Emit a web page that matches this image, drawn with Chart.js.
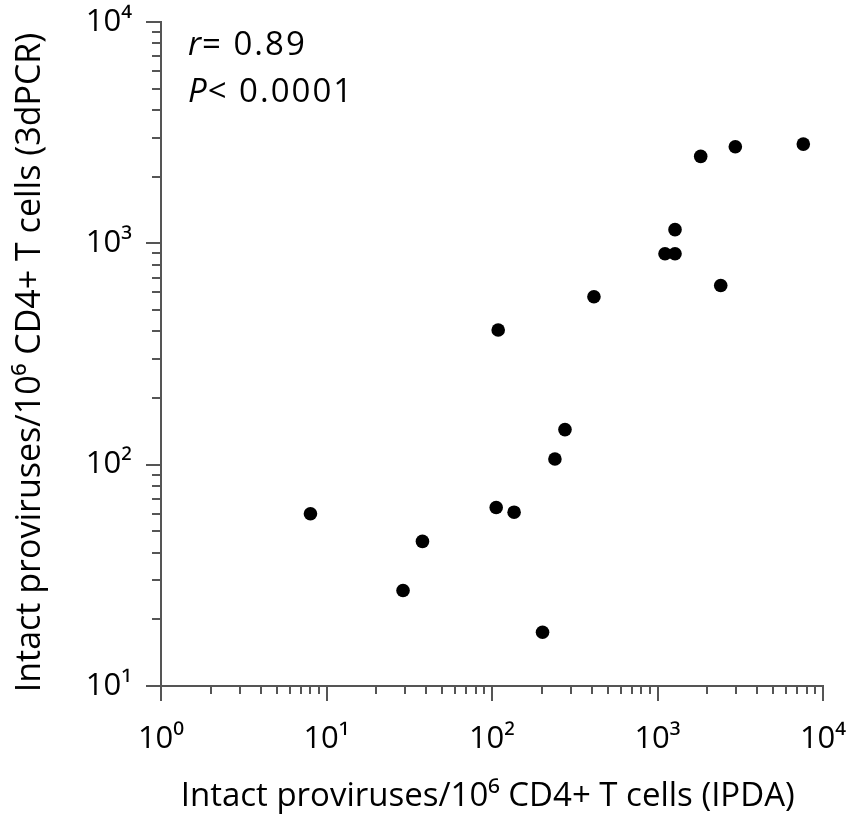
<!DOCTYPE html>
<html>
<head>
<meta charset="utf-8">
<script src="https://cdn.jsdelivr.net/npm/chart.js@4.4.1/dist/chart.umd.min.js"></script>
<style>
  html, body { margin: 0; padding: 0; background: #fff; }
  #wrap { width: 855px; height: 818px; }
</style>
</head>
<body>
<div id="wrap"><canvas id="scatter" width="855" height="818"></canvas></div>
<script>
// values (copies per 10^6 CD4+ T cells)
const ipda = [8, 29, 38, 106, 136, 202, 240, 276, 109, 413, 1110, 1276, 1276, 1824, 2953, 7603, 2410];
const dpcr = [60, 27, 45, 64, 61, 17.5, 106, 144, 406, 574, 897, 897, 1153, 2470, 2731, 2807, 645];

const xDecades = [1, 10, 100, 1000, 10000];
const yDecades = [10, 100, 1000, 10000];
const supers = { 0: '\u2070', 1: '\u00B9', 2: '\u00B2', 3: '\u00B3', 4: '\u2074' };

// trailing spaces nudge the centred titles a little, as in the figure
const xTitle = 'Intact proviruses/10\u2076 CD4+ T cells (IPDA) ';
const yTitle = 'Intact proviruses/10\u2076 CD4+ T cells (3dPCR)\u2002';
const statR = '0.89';
const statP = '0.0001';

const FONT = '"Open Sans", "DejaVu Sans", sans-serif';
const AXIS = '#555555';

const points = ipda.map((v, i) => ({ x: v, y: dpcr[i] }));

function powLabel(v) {
  const e = Math.round(Math.log10(v));
  return '10' + supers[e];
}

// minor + major tick marks on the log axes
const tickMarks = {
  id: 'tickMarks',
  afterDraw(chart) {
    const { ctx, scales: { x, y } } = chart;
    ctx.save();
    ctx.strokeStyle = AXIS;
    ctx.lineWidth = 2;
    for (let e = 0; e <= 4; e++) {
      for (let k = 1; k <= 9; k++) {
        const v = k * Math.pow(10, e);
        if (v > 10000) break;
        const px = Math.round(x.getPixelForValue(v));
        const len = k === 1 ? 15 : 8;
        ctx.beginPath();
        ctx.moveTo(px, x.top - 1);
        ctx.lineTo(px, x.top + len);
        ctx.stroke();
      }
    }
    for (let e = 1; e <= 4; e++) {
      for (let k = 1; k <= 9; k++) {
        const v = k * Math.pow(10, e);
        if (v > 10000) break;
        const py = Math.round(y.getPixelForValue(v));
        const len = k === 1 ? 15 : 9;
        ctx.beginPath();
        ctx.moveTo(y.right + 1, py);
        ctx.lineTo(y.right - len, py);
        ctx.stroke();
      }
    }
    ctx.restore();
  }
};

// r and P in the top left corner
const stats = {
  id: 'stats',
  afterDraw(chart) {
    const { ctx, chartArea } = chart;
    const left = chartArea.left + 27;
    ctx.save();
    ctx.fillStyle = '#000';
    ctx.textBaseline = 'alphabetic';
    ctx.letterSpacing = '2px';
    const rows = [['r', '= ' + statR, 33], ['P', '< ' + statP, 80]];
    rows.forEach(([ital, rest, dy]) => {
      ctx.font = 'italic 33px ' + FONT;
      ctx.fillText(ital, left, chartArea.top + dy);
      const w = ctx.measureText(ital).width;
      ctx.font = '33px ' + FONT;
      ctx.fillText(rest, left + w - 1, chartArea.top + dy);
    });
    ctx.restore();
  }
};

new Chart(document.getElementById('scatter'), {
  type: 'scatter',
  data: {
    datasets: [{
      data: points,
      backgroundColor: '#000',
      borderWidth: 0,
      pointRadius: 6.8,
      pointHoverRadius: 6.8
    }]
  },
  options: {
    responsive: false,
    animation: false,
    events: [],
    layout: { padding: { top: 22, right: 32, left: 0, bottom: 0 } },
    plugins: { legend: { display: false }, tooltip: { enabled: false } },
    scales: {
      x: {
        type: 'logarithmic',
        min: 1,
        max: 10000,
        afterBuildTicks: s => { s.ticks = xDecades.map(v => ({ value: v })); },
        afterFit: s => { s.height = 132; s.paddingLeft = 0; s.paddingRight = 0; },
        grid: { display: false, drawTicks: false },
        border: { display: true, color: AXIS, width: 2 },
        ticks: {
          autoSkip: false,
          maxRotation: 0,
          padding: 38,
          color: '#000',
          font: { family: FONT, size: 31, lineHeight: 1 },
          callback: v => powLabel(v)
        },
        title: {
          display: true,
          text: xTitle,
          color: '#000',
          font: { family: FONT, size: 33, lineHeight: 1 },
          padding: { top: 0, bottom: 5 }
        }
      },
      y: {
        type: 'logarithmic',
        min: 10,
        max: 10000,
        afterBuildTicks: s => { s.ticks = yDecades.map(v => ({ value: v })); },
        afterFit: s => { s.width = 161; s.paddingTop = 0; s.paddingBottom = 0; },
        grid: { display: false, drawTicks: false },
        border: { display: true, color: AXIS, width: 2 },
        ticks: {
          autoSkip: false,
          padding: 29,
          color: '#000',
          font: { family: FONT, size: 31, lineHeight: 1 },
          callback: v => powLabel(v)
        },
        title: {
          display: true,
          text: yTitle,
          color: '#000',
          font: { family: FONT, size: 34, lineHeight: 1 },
          padding: { top: 13, bottom: 0 }
        }
      }
    }
  },
  plugins: [tickMarks, stats]
});
</script>
</body>
</html>
